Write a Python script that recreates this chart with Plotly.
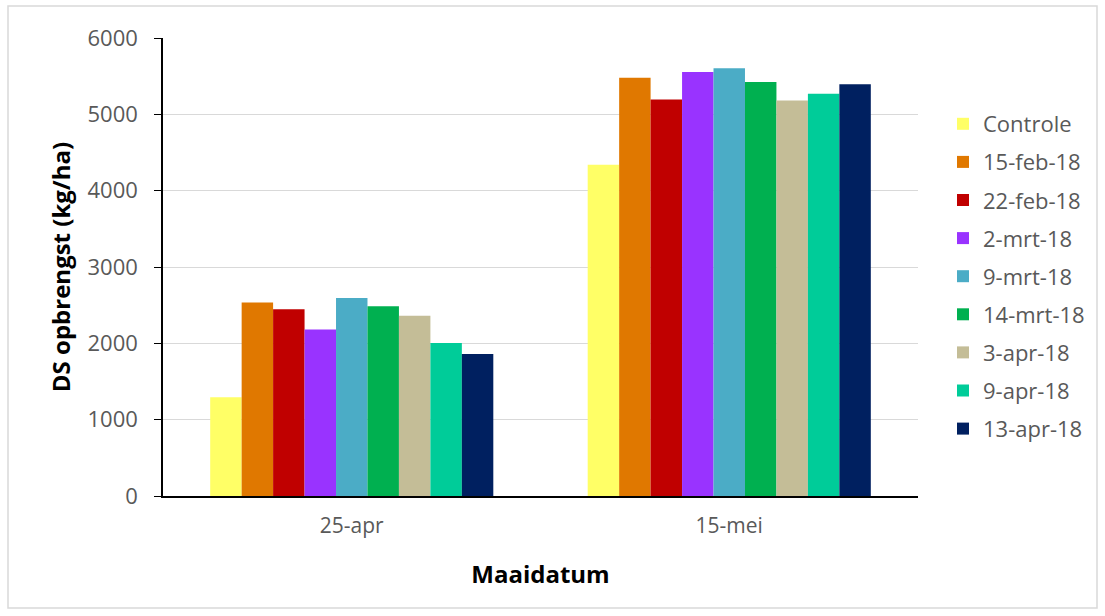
import plotly.graph_objects as go

categories = ["25-apr", "15-mei"]
series_names = ["Controle", "15-feb-18", "22-feb-18", "2-mrt-18", "9-mrt-18",
                "14-mrt-18", "3-apr-18", "9-apr-18", "13-apr-18"]
values_25apr = [1295, 2535, 2445, 2180, 2595, 2485, 2360, 2005, 1860]
values_15mei = [4340, 5480, 5195, 5555, 5605, 5425, 5180, 5270, 5395]
colors = ["#FFFF66", "#E07800", "#C00000", "#9933FF", "#4BACC6",
          "#00B050", "#C4BD97", "#00CC99", "#002060"]

FONT = "Open Sans"
L, R, T, B = 163, 187, 38, 120
W, H = 1105, 616
pw, ph = W - L - R, H - T - B

fig = go.Figure()
for i, name in enumerate(series_names):
    fig.add_trace(go.Bar(
        x=categories, y=[values_25apr[i], values_15mei[i]], name=name,
        marker=dict(color=colors[i], line=dict(width=0)),
        legendgroup=name,
    ))

def px_x(p):
    return (p - L) / pw

def px_y(p):
    return (H - B - p) / ph

fig.update_layout(
    width=W, height=H,
    margin=dict(l=L, r=R, t=T, b=B),
    paper_bgcolor="white", plot_bgcolor="white",
    barmode="group", bargap=0.25, bargroupgap=0,
    font=dict(family=FONT, color="#595959", size=20),
    showlegend=True,
    legend=dict(x=px_x(943), y=px_y(276.5), xanchor="left", yanchor="middle",
                font=dict(size=22, color="#595959", family=FONT),
                tracegroupgap=6.5, bgcolor="rgba(0,0,0,0)"),
    xaxis=dict(showline=True, linecolor="#000000", linewidth=1.5,
               ticks="", tickfont=dict(size=21, color="#595959"),
               ticklabelstandoff=10,
               title=dict(text="<b>Maaidatum</b>", font=dict(size=24, color="#000000"),
                          standoff=28)),
    yaxis=dict(range=[0, 6000], dtick=1000, showline=True, linecolor="#000000",
               linewidth=1.5, ticks="outside", ticklen=7, tickcolor="#000000",
               showgrid=True, gridcolor="#D9D9D9", gridwidth=1,
               tickfont=dict(size=22, color="#595959"), ticklabelstandoff=12,
               zeroline=False,
               title=dict(text="<b>DS opbrengst (kg/ha)</b>",
                          font=dict(size=24, color="#000000"), standoff=10)),
    shapes=[dict(type="rect", xref="paper", yref="paper",
                 x0=px_x(8), x1=px_x(1097), y0=px_y(608), y1=px_y(6),
                 line=dict(color="#D9D9D9", width=1.5), layer="below")],
)

fig.write_html("out.html")
